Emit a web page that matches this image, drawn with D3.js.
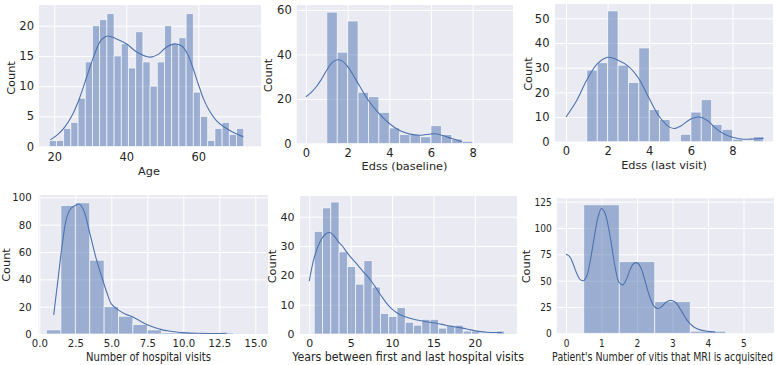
<!DOCTYPE html>
<html>
<head>
<meta charset="utf-8">
<script src="https://cdn.jsdelivr.net/npm/d3@7"></script>
<style>
body { margin: 0; background: #fff; }
svg { display: block; font-family: "DejaVu Sans", sans-serif; }
</style>
</head>
<body>
<svg width="777" height="365"></svg>
<script>
// ---- data ----
const ageStart = 18.6, ageStep = 2;
const ageCounts = [1, 1, 3, 4, 8, 14, 20, 21, 22, 15, 17, 13, 19, 14, 10, 14, 20, 17, 18, 22, 9, 5, 1, 3, 4, 2, 3];
const ageKde = [[18.9, 1.1], [21, 2], [23, 3.3], [25, 5.2], [27, 8], [29, 11.5], [31, 15], [33, 17.6], [34.8, 18.3],
  [37, 17.9], [40, 17], [43, 15.6], [46.5, 14.8], [49, 15.3], [51, 16.4], [53.5, 17], [55.5, 16.6], [57, 15.3],
  [58.5, 13], [60, 10.3], [61.5, 7.8], [63, 6], [65, 4.3], [67, 3.3], [69.5, 2.4], [72.5, 1.6]];

const edssBaseStart = 1.0, edssBaseStep = 0.5;
const edssBaseCounts = [59, 41, 55, 23, 21, 14, 7, 4, 4, 3, 8, 4, 2, 1];
const edssBaseKde = [[0, 21], [0.25, 23], [0.5, 25.5], [0.75, 29], [1.0, 33], [1.25, 36.3], [1.5, 37.6], [1.75, 37],
  [2.0, 34.5], [2.25, 31], [2.5, 27], [2.75, 23], [3.0, 19.3], [3.5, 13.5], [4, 9], [4.5, 5.8], [5, 4.2], [5.5, 3.7],
  [6, 4.3], [6.3, 4.3], [6.6, 3.5], [7, 2.2], [7.5, 0.8]];

const edssLastStart = 1.0, edssLastStep = 0.5;
const edssLastCounts = [29, 32, 53, 31, 24, 38, 13, 9, 0, 3, 12, 17, 7, 5, 1, 0, 2];
const edssLastKde = [[0, 10], [0.5, 16.5], [1.0, 25], [1.5, 31.5], [2.0, 34.2], [2.5, 33], [3.0, 30.5], [3.5, 25.5],
  [4.0, 17.5], [4.5, 10], [5.0, 5.8], [5.25, 5.4], [5.5, 6.3], [6.0, 9.2], [6.4, 10], [6.8, 8.6], [7.2, 5.4],
  [7.6, 3.1], [8.0, 1.8], [8.5, 1], [9.0, 1.1], [9.5, 1.4]];

const visitsStart = 0.5, visitsStep = 1;
const visitsCounts = [3, 94, 96, 54, 20, 13, 7, 3, 1, 1, 0, 0, 1];
const visitsKde = [[1.0, 14], [1.3, 40], [1.6, 66], [1.9, 85], [2.2, 92], [2.5, 94], [2.8, 95], [3.1, 90], [3.5, 74],
  [3.9, 57], [4.3, 43], [4.7, 30], [5.0, 22], [5.5, 17.5], [6.0, 14.5], [6.5, 12.5], [7.0, 9.5], [7.5, 6.8],
  [8.0, 4.8], [8.5, 3.2], [9.0, 2.2], [9.5, 1.5], [10, 1], [11, 0.5], [12, 0.4], [13, 0.6]];

const yearsStart = 0.6, yearsStep = 1;
const yearsCounts = [35, 43, 45, 28, 23, 17, 25, 16, 7, 6, 9, 4, 3, 5, 5, 2, 3, 3, 1, 1, 0, 0, 1];
const yearsKde = [[0, 18], [0.5, 25], [1.0, 29.5], [1.5, 32.5], [2.0, 34.2], [2.5, 34.6], [3.0, 33.5], [3.5, 31.5],
  [4.0, 30], [4.5, 28], [5.0, 26.2], [5.5, 24.7], [6, 23], [6.5, 21.3], [7, 19.8], [7.5, 18], [8, 16], [8.5, 13.8],
  [9, 11.8], [9.5, 9.9], [10, 8.5], [10.5, 7.4], [11, 6.6], [11.6, 5.9], [12.5, 5.1], [13.5, 4.5], [14.5, 4],
  [15.5, 3.6], [16.5, 3], [17.5, 2.5], [18.5, 2], [19.5, 1.4], [20.5, 0.9], [21.5, 0.6], [22.5, 0.5], [23.3, 0.5]];

const mriStart = 0.5, mriStep = 1;
const mriCounts = [122, 68, 30, 2];
const mriKde = [[0, 75], [0.1, 73], [0.2, 66], [0.3, 57], [0.4, 51], [0.5, 50], [0.6, 56], [0.7, 72], [0.8, 92],
  [0.9, 110], [1.0, 118.5], [1.1, 114], [1.2, 100], [1.3, 80], [1.4, 60], [1.5, 48], [1.6, 46], [1.7, 51], [1.8, 60],
  [1.9, 66], [2.0, 67], [2.1, 63], [2.2, 53], [2.3, 41], [2.4, 31], [2.5, 25], [2.6, 23.5], [2.7, 25.5], [2.8, 29],
  [2.9, 31], [3.0, 31], [3.1, 29], [3.2, 24], [3.3, 18.5], [3.4, 13], [3.5, 9], [3.6, 6], [3.8, 3], [4.0, 1.8], [4.2, 1.2]];

const ageTicks = [20, 40, 60];
const edssTicks = [0, 2, 4, 6, 8];
const visitsTicks = [0, 2.5, 5, 7.5, 10, 12.5, 15];
const yearsTicks = [0, 5, 10, 15, 20];
const mriTicks = [0, 1, 2, 3, 4, 5];

// ---- layout ----
const svg = d3.select('svg');
const blue = '#4C72B0';
const ink = '#262626';

const panels = [
  { label: 'Age', start: ageStart, step: ageStep, counts: ageCounts, kde: ageKde,
    box: [39, 261, 5, 146.5], xd: [15.75, 77.4], yd: [0, 23.43], xt: ageTicks, yt: [0, 5, 10, 15, 20],
    xpad: 6, ypad: 5, sx: 1, fs: 11.5, lx: 149, ly: 171, cx: 11, cy: 78 },
  { label: 'Edss (baseline)', start: edssBaseStart, step: edssBaseStep, counts: edssBaseCounts, kde: edssBaseKde,
    box: [296.7, 513, 5, 143.5], xd: [-0.446, 9.94], yd: [0, 62.2], xt: edssTicks, yt: [0, 20, 40, 60],
    xpad: 5, ypad: 5, sx: 1, fs: 11.5, lx: 404.5, ly: 166, cx: 268.5, cy: 75.5 },
  { label: 'Edss (last visit)', start: edssLastStart, step: edssLastStep, counts: edssLastCounts, kde: edssLastKde,
    box: [555, 773, 4, 141.7], xd: [-0.53, 9.95], yd: [0, 55.8], xt: edssTicks, yt: [0, 10, 20, 30, 40, 50],
    xpad: 5, ypad: 5.5, sx: 1, fs: 11.5, lx: 664, ly: 165, cx: 528.5, cy: 74 },
  { label: 'Number of hospital visits', start: visitsStart, step: visitsStep, counts: visitsCounts, kde: visitsKde,
    box: [38.5, 268, 195, 334], xd: [-0.056, 15.88], yd: [0, 101.7], xt: visitsTicks, yt: [0, 20, 40, 60, 80, 100],
    xpad: 5.5, ypad: 7.5, sx: 0.92, fs: 11, lx: 148.5, ly: 357.5, lw: 125, cx: 6, cy: 265, fmt: d3.format('.1f') },
  { label: 'Years between first and last hospital visits', start: yearsStart, step: yearsStep, counts: yearsCounts, kde: yearsKde,
    box: [300, 517, 196, 334], xd: [-1.12, 25.1], yd: [0, 47.06], xt: yearsTicks, yt: [0, 10, 20, 30, 40],
    xpad: 5, ypad: 5.5, sx: 1, fs: 11, lx: 408, ly: 357, lw: 232, cx: 272, cy: 266.5 },
  { label: "Patient's Number of vitis that MRI is acquisited", start: mriStart, step: mriStep, counts: mriCounts, kde: mriKde,
    box: [556.7, 774, 198.3, 333.3], xd: [-0.262, 5.86], yd: [0, 128.2], xt: mriTicks, yt: [0, 25, 50, 75, 100, 125],
    xpad: 5.5, ypad: 6, sx: 0.82, fs: 11, lx: 662.5, ly: 357, lw: 221, cx: 526.5, cy: 266.5 }
];

function drawPanel(p) {
  const [x0, x1, y0, y1] = p.box;
  const x = d3.scaleLinear().domain(p.xd).range([x0, x1]);
  const y = d3.scaleLinear().domain(p.yd).range([y1, y0]);
  const g = svg.append('g');

  g.append('rect')
    .attr('x', x0).attr('y', y0)
    .attr('width', x1 - x0).attr('height', y1 - y0)
    .attr('fill', '#EAEAF2');

  // white grid
  g.append('g')
    .attr('transform', `translate(0,${y1})`)
    .call(d3.axisBottom(x).tickValues(p.xt).tickSize(-(y1 - y0)).tickFormat(''))
    .call(a => a.select('.domain').remove())
    .selectAll('line').attr('stroke', '#fff').attr('stroke-width', 1);
  g.append('g')
    .attr('transform', `translate(${x0},0)`)
    .call(d3.axisLeft(y).tickValues(p.yt).tickSize(-(x1 - x0)).tickFormat(''))
    .call(a => a.select('.domain').remove())
    .selectAll('line').attr('stroke', '#fff').attr('stroke-width', 1);

  const bins = p.counts.map((c, i) => ({ a: p.start + i * p.step, b: p.start + (i + 1) * p.step, c: c }));
  g.selectAll('rect.bar')
    .data(bins.filter(d => d.c > 0))
    .enter()
    .append('rect')
    .attr('class', 'bar')
    .attr('x', d => x(d.a))
    .attr('width', d => x(d.b) - x(d.a))
    .attr('y', d => y(d.c))
    .attr('height', d => y(0) - y(d.c))
    .attr('fill', blue)
    .attr('fill-opacity', 0.5)
    .attr('stroke', '#fff')
    .attr('stroke-opacity', 0.8)
    .attr('stroke-width', 0.8);

  g.append('path')
    .datum(p.kde)
    .attr('fill', 'none')
    .attr('stroke', blue)
    .attr('stroke-width', 1.1)
    .attr('d', d3.line().x(d => x(d[0])).y(d => y(d[1])).curve(d3.curveCatmullRom));

  // tick labels
  const xa = g.append('g')
    .attr('transform', `translate(0,${y1})`)
    .call(d3.axisBottom(x).tickValues(p.xt).tickSize(0).tickPadding(p.xpad).tickFormat(p.fmt || d3.format('d')));
  const ya = g.append('g')
    .attr('transform', `translate(${x0},0)`)
    .call(d3.axisLeft(y).tickValues(p.yt).tickSize(0).tickPadding(p.ypad).tickFormat(d3.format('d')));
  [xa, ya].forEach(a => {
    a.select('.domain').remove();
    a.selectAll('text')
      .attr('fill', ink)
      .style('font-size', p.fs + 'px')
      .style('font-family', '"DejaVu Sans", sans-serif')
      .attr('transform', `scale(${p.sx},1)`);
  });

  // x label; the bottom row labels are squeezed sideways in the picture
  const xl = g.append('text')
    .attr('transform', `translate(${p.lx},${p.ly})`)
    .attr('text-anchor', 'middle')
    .attr('dominant-baseline', 'central')
    .attr('fill', ink)
    .style('font-size', p.lw ? '11.5px' : '11.3px')
    .text(p.label);
  if (p.lw) {
    const s = p.lw / xl.node().getComputedTextLength();
    xl.attr('transform', `translate(${p.lx},${p.ly}) scale(${s},1)`);
  }

  g.append('text')
    .attr('transform', `translate(${p.cx},${p.cy}) rotate(-90)`)
    .attr('text-anchor', 'middle')
    .attr('dominant-baseline', 'central')
    .attr('fill', ink)
    .style('font-size', '11.3px')
    .text('Count');
}

panels.forEach(drawPanel);
</script>
</body>
</html>
